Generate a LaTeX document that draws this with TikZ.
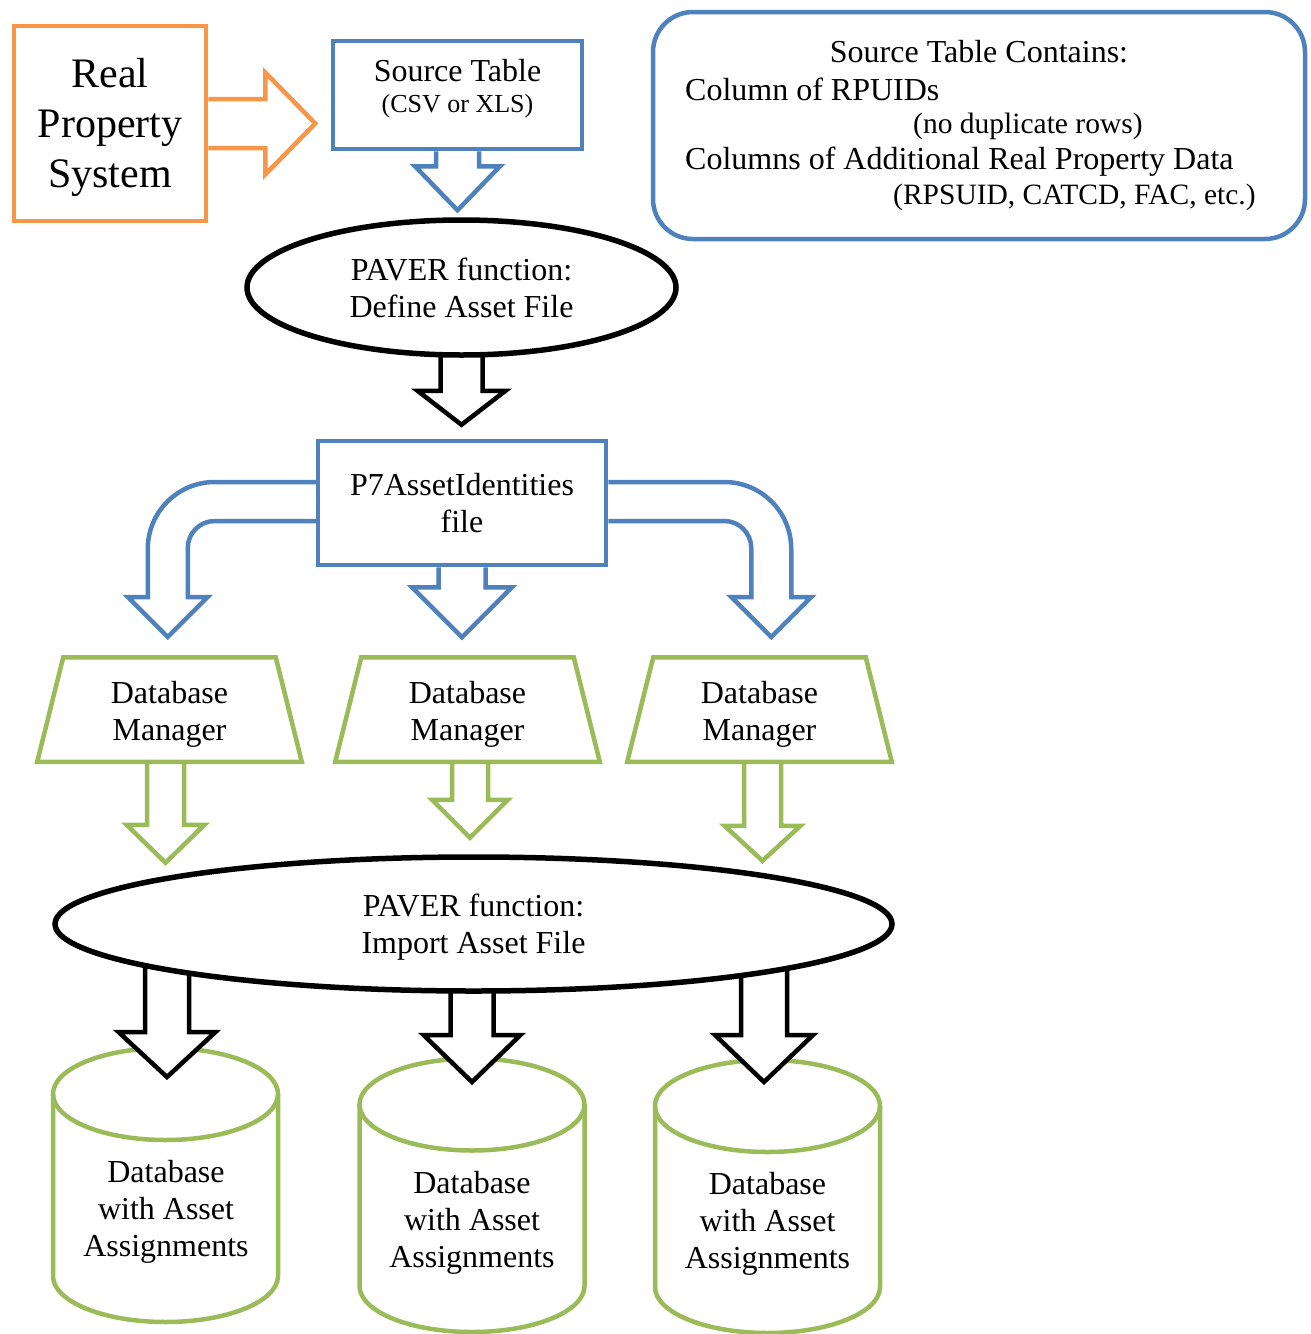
\documentclass[tikz,border=0pt]{standalone}
\usepackage{fontspec}
\setmainfont{Liberation Serif}
\usetikzlibrary{positioning,calc,shapes.geometric}
\definecolor{sysorange}{RGB}{247,150,70}
\definecolor{fileblue}{RGB}{79,129,189}
\definecolor{dbgreen}{RGB}{155,187,89}
\newcommand{\bigsize}{\fontsize{42pt}{50pt}\selectfont}
\newcommand{\bodysize}{\fontsize{32pt}{37pt}\selectfont}
\newcommand{\subsize}{\fontsize{26pt}{31pt}\selectfont}
\newcommand{\notesize}{\fontsize{29.5pt}{35pt}\selectfont}
\pgfdeclarelayer{bg}
\pgfsetlayers{bg,main}
% block arrow: [style]{start}{angle}{shaft half}{shaft length}{head half}{head length}
\newcommand{\blockarrow}[7][]{%
  \draw[#1, shift={#2}, rotate=#3] (0,#4) -- (#5,#4) -- (#5,#6) -- ({#5+#7},0) -- (#5,-#6) -- (#5,-#4) -- (0,-#4);}
% database drum: {cx}{top centre y}{bottom centre y}
\newcommand{\dbdrum}[3]{%
  \filldraw[dbline, fill=white] ({#1-112.5},#2) -- ({#1-112.5},#3) arc[start angle=180, end angle=360, x radius=112.5, y radius=46] -- ({#1+112.5},#2);
  \draw[dbline] (#1,#2) ellipse[x radius=112.5, y radius=46];}

\begin{document}
\begin{tikzpicture}[x=1pt, y=1pt,
  boxline/.style={line width=4.5pt, fill=white, align=center},
  sysbox/.style={boxline, draw=sysorange, minimum width=192pt, minimum height=195pt, font=\bigsize},
  filebox/.style={boxline, draw=fileblue, font=\bodysize},
  paver/.style={ellipse, draw, line width=5.5pt, fill=white, align=center, font=\bodysize},
  mgrbox/.style={align=center, font=\bodysize, minimum width=264.5pt, minimum height=104.5pt, outer sep=0pt, text height=68pt},
  dbline/.style={draw=dbgreen, line width=4.5pt},
  dbtext/.style={align=center, font=\bodysize},
  notetext/.style={font=\bodysize, inner sep=0pt},
  orangearr/.style={draw=sysorange, line width=4.5pt, fill=white},
  bluearr/.style={draw=fileblue, line width=4.5pt, fill=white},
  greenarr/.style={draw=dbgreen, line width=4.5pt, fill=white},
  blackarr/.style={draw=black, line width=4.5pt, fill=white}
]
\useasboundingbox (0,0) rectangle (1311,-1334);

% top row
\node[sysbox, text height=138pt] (rps) at (110,-123.5) {Real\\Property\\System};
\node[filebox, minimum width=249pt, minimum height=108pt, text depth=18pt] (src) at (457.5,-95) {Source Table\\[-6pt]{\subsize(CSV or XLS)}};
\node[filebox, rounded corners=40pt, minimum width=652pt, minimum height=227pt] (note) at (979,-125.5) {};
\node[notetext] (nhead) at (979,-52) {Source Table Contains:};
\node[notetext, anchor=west] (ncol) at (685,-89) {Column of RPUIDs};
\node[notetext, font=\notesize, anchor=west] (ndup) at (913,-126) {(no duplicate rows)};
\node[notetext, anchor=west] (nadd) at (685,-162) {Columns of Additional Real Property Data};
\node[notetext, font=\notesize, anchor=west] (nfld) at (893,-197) {(RPSUID, CATCD, FAC, etc.)};

% middle
\node[paver, minimum width=429pt, minimum height=135pt] (def) at (461.5,-287.5) {PAVER function:\\Define Asset File};
\node[filebox, minimum width=288pt, minimum height=124pt] (p7) at (462,-503) {P7AssetIdentities\\file};
\node[mgrbox] (dbm1) at (169.5,-709.5) {Database\\Manager};
\node[mgrbox] (dbm2) at (467.5,-709.5) {Database\\Manager};
\node[mgrbox] (dbm3) at (759.5,-709.5) {Database\\Manager};
\foreach \m in {dbm1,dbm2,dbm3}
  \draw[dbline] (\m.south west) -- ([xshift=26pt]\m.north west) -- ([xshift=-26pt]\m.north east) -- (\m.south east) -- cycle;
\node[paver, minimum width=837pt, minimum height=134pt, text height=65pt] (imp) at (473.5,-924) {PAVER function:\\Import Asset File};

% databases
\node[dbtext] (db1) at (166,-1211.5) {Database\\with Asset\\Assignments};
\node[dbtext] (db2) at (472,-1222.5) {Database\\with Asset\\Assignments};
\node[dbtext] (db3) at (767.5,-1223.5) {Database\\with Asset\\Assignments};

\begin{pgfonlayer}{bg}
\dbdrum{165.5}{-1094}{-1276}
\dbdrum{472}{-1104.5}{-1286}
\dbdrum{767.5}{-1106}{-1287}

\blockarrow[orangearr]{(rps.east)}{0}{24.5}{57}{51}{50}
\blockarrow[bluearr]{(src.south)}{-90}{21.5}{15}{42.5}{44}
\blockarrow[blackarr]{($(def.south)+(0,10)$)}{-90}{21}{43}{44}{34}
\blockarrow[bluearr]{(p7.south)}{-90}{23.5}{20}{50}{50}
% curved arrows out of the identities file
\draw[bluearr] ($(p7.west)+(0,21)$) -- ++(-101,0) arc[start angle=90, end angle=180, radius=67]
  -- ++(0,-48) -- ++(-20,0) -- ++(40,-40) -- ++(40,40) -- ++(-20,0) -- ++(0,49)
  arc[start angle=180, end angle=90, radius=27] -- ($(p7.west)+(0,-18)$);
\draw[bluearr] ($(p7.east)+(0,21)$) -- ++(116,0) arc[start angle=90, end angle=0, radius=67]
  -- ++(0,-48) -- ++(20,0) -- ++(-40,-40) -- ++(-40,40) -- ++(20,0) -- ++(0,49)
  arc[start angle=0, end angle=90, radius=27] -- ($(p7.east)+(0,-18)$);

\blockarrow[greenarr]{($(dbm1.south)+(-4,0)$)}{-90}{18.5}{63}{39}{38}
\blockarrow[greenarr]{($(dbm2.south)+(2.5,0)$)}{-90}{18}{38}{38}{38}
\blockarrow[greenarr]{($(dbm3.south)+(3,0)$)}{-90}{18.5}{64}{38}{35}

\blockarrow[blackarr]{($(db1 |- imp.center)+(1,0)$)}{-90}{22}{108}{48.5}{45}
\blockarrow[blackarr]{(db2 |- imp.center)}{-90}{21.5}{111}{48.5}{47}
\blockarrow[blackarr]{($(db3 |- imp.center)+(-3.5,0)$)}{-90}{23}{111}{49}{47}
\end{pgfonlayer}
\end{tikzpicture}
\end{document}
